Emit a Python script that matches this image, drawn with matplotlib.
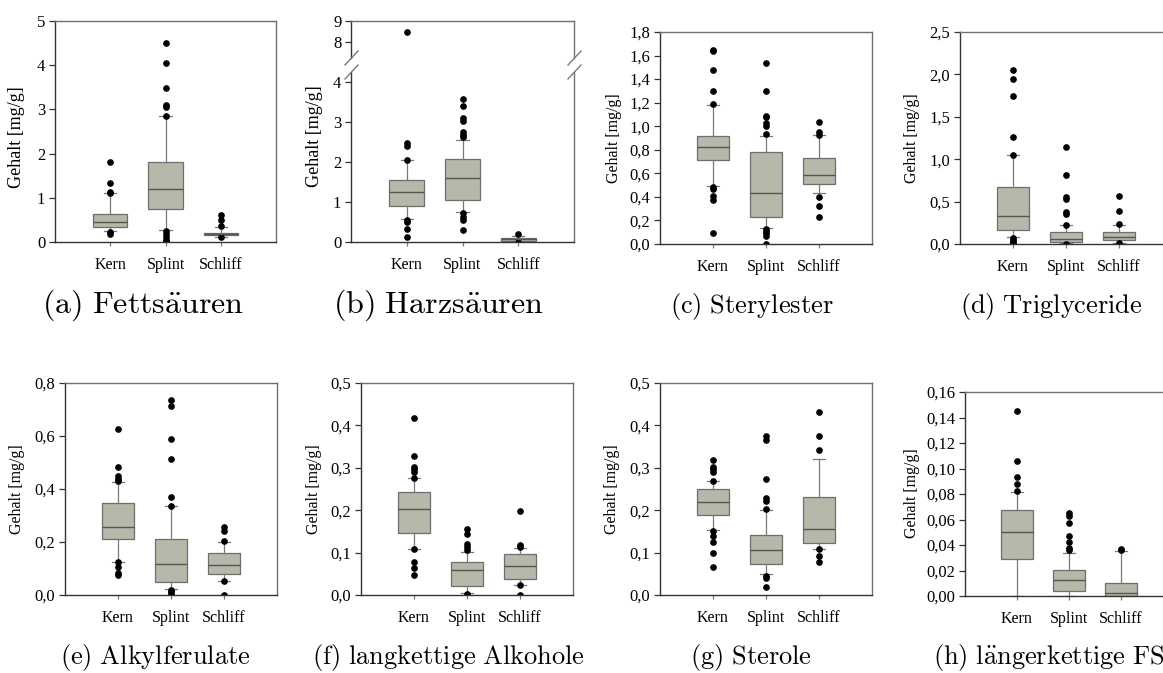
import matplotlib
matplotlib.use("Agg")
import matplotlib.pyplot as plt
from matplotlib.lines import Line2D

plt.rcParams['mathtext.fontset'] = 'cm'
plt.rcParams['font.family'] = ['Liberation Serif', 'DejaVu Serif']

W, H = 1163, 673
fig = plt.figure(figsize=(W / 100, H / 100), dpi=100)

categories = ['Kern', 'Splint', 'Schliff']

# ---------------- data ----------------
# (a) Fettsäuren
fett_q1 = [0.33, 0.745, 0.15]
fett_med = [0.46, 1.20, 0.18]
fett_q3 = [0.63, 1.82, 0.21]
fett_lo = [0.26, 0.27, 0.11]
fett_hi = [1.11, 2.84, 0.35]
fett_fliers = [[1.80, 1.34, 1.14, 1.11, 0.22, 0.18],
               [4.50, 4.06, 3.49, 3.10, 3.05, 2.85, 0.24, 0.17, 0.11, 0.05, 0.02],
               [0.62, 0.49, 0.36, 0.11]]
fett_yticks = [0, 1, 2, 3, 4, 5]
fett_yticklabels = ['0', '1', '2', '3', '4', '5']

# (b) Harzsäuren
harz_q1 = [0.89, 1.04, 0.025]
harz_med = [1.26, 1.61, 0.07]
harz_q3 = [1.56, 2.08, 0.09]
harz_lo = [0.57, 0.75, 0.0]
harz_hi = [2.04, 2.56, 0.14]
harz_fliers = [[8.50, 2.47, 2.41, 2.04, 0.55, 0.51, 0.33, 0.13],
               [3.57, 3.41, 3.10, 3.03, 2.76, 2.67, 2.62, 0.72, 0.62, 0.54, 0.29],
               [0.20, 0.0]]
harz_yticks_low = [0, 1, 2, 3, 4]
harz_yticklabels_low = ['0', '1', '2', '3', '4']
harz_yticks_high = [8, 9]
harz_yticklabels_high = ['8', '9']

# (c) Sterylester
steryl_q1 = [0.717, 0.227, 0.51]
steryl_med = [0.822, 0.43, 0.587]
steryl_q3 = [0.92, 0.78, 0.728]
steryl_lo = [0.49, 0.136, 0.43]
steryl_hi = [1.18, 0.915, 0.927]
steryl_fliers = [[1.65, 1.635, 1.48, 1.30, 1.19, 0.48, 0.465, 0.41, 0.37, 0.096],
                 [1.536, 1.30, 1.09, 1.077, 1.026, 1.003, 0.933, 0.125, 0.108, 0.09, 0.068, 0.0],
                 [1.04, 0.947, 0.927, 0.40, 0.323, 0.232]]
steryl_yticks = [0.0, 0.2, 0.4, 0.6, 0.8, 1.0, 1.2, 1.4, 1.6, 1.8]
steryl_yticklabels = ['0,0', '0,2', '0,4', '0,6', '0,8', '1,0', '1,2', '1,4', '1,6', '1,8']

# (d) Triglyceride
trig_q1 = [0.165, 0.028, 0.043]
trig_med = [0.327, 0.063, 0.079]
trig_q3 = [0.677, 0.138, 0.138]
trig_lo = [0.079, 0.008, 0.008]
trig_hi = [1.05, 0.224, 0.224]
trig_fliers = [[2.055, 1.95, 1.74, 1.256, 1.05, 0.07, 0.047, 0.024, 0.008],
               [1.14, 0.815, 0.55, 0.527, 0.378, 0.358, 0.224, 0.0],
               [0.567, 0.386, 0.24, 0.012, 0.0]]
trig_yticks = [0.0, 0.5, 1.0, 1.5, 2.0, 2.5]
trig_yticklabels = ['0,0', '0,5', '1,0', '1,5', '2,0', '2,5']

# (e) Alkylferulate
alkyl_q1 = [0.211, 0.048, 0.079]
alkyl_med = [0.257, 0.117, 0.112]
alkyl_q3 = [0.346, 0.211, 0.157]
alkyl_lo = [0.126, 0.023, 0.054]
alkyl_hi = [0.425, 0.335, 0.201]
alkyl_fliers = [[0.626, 0.483, 0.448, 0.438, 0.429, 0.123, 0.104, 0.083, 0.074],
                [0.735, 0.714, 0.589, 0.513, 0.371, 0.335, 0.02, 0.014, 0.008, 0.0],
                [0.257, 0.242, 0.203, 0.054, 0.0]]
alkyl_yticks = [0.0, 0.2, 0.4, 0.6, 0.8]
alkyl_yticklabels = ['0,0', '0,2', '0,4', '0,6', '0,8']

# (f) langkettige Alkohole
alko_q1 = [0.147, 0.021, 0.038]
alko_med = [0.203, 0.058, 0.069]
alko_q3 = [0.243, 0.077, 0.097]
alko_lo = [0.108, 0.005, 0.024]
alko_hi = [0.275, 0.102, 0.110]
alko_fliers = [[0.418, 0.328, 0.302, 0.297, 0.29, 0.275, 0.108, 0.077, 0.063, 0.048],
               [0.155, 0.143, 0.121, 0.114, 0.106, 0.002, 0.0],
               [0.198, 0.119, 0.114, 0.024, 0.0]]
alko_yticks = [0.0, 0.1, 0.2, 0.3, 0.4, 0.5]
alko_yticklabels = ['0,0', '0,1', '0,2', '0,3', '0,4', '0,5']

# (g) Sterole
sterol_q1 = [0.189, 0.073, 0.123]
sterol_med = [0.219, 0.106, 0.156]
sterol_q3 = [0.251, 0.141, 0.232]
sterol_lo = [0.153, 0.050, 0.108]
sterol_hi = [0.269, 0.200, 0.320]
sterol_fliers = [[0.318, 0.302, 0.297, 0.29, 0.269, 0.152, 0.139, 0.125, 0.098, 0.065],
                 [0.374, 0.365, 0.274, 0.229, 0.221, 0.203, 0.044, 0.039, 0.018],
                 [0.431, 0.374, 0.341, 0.108, 0.093, 0.078]]
sterol_yticks = [0.0, 0.1, 0.2, 0.3, 0.4, 0.5]
sterol_yticklabels = ['0,0', '0,1', '0,2', '0,3', '0,4', '0,5']

# (h) längerkettige FS
lfs_q1 = [0.0287, 0.0037, 0.0]
lfs_med = [0.0499, 0.0125, 0.0021]
lfs_q3 = [0.0671, 0.0201, 0.0099]
lfs_lo = [0.0, 0.0, 0.0]
lfs_hi = [0.0812, 0.0334, 0.0355]
lfs_fliers = [[0.145, 0.1055, 0.093, 0.0877, 0.0822],
              [0.0653, 0.0626, 0.0574, 0.047, 0.042, 0.0373, 0.036],
              [0.0365, 0.0358]]
lfs_yticks = [0.00, 0.02, 0.04, 0.06, 0.08, 0.10, 0.12, 0.14, 0.16]
lfs_yticklabels = ['0,00', '0,02', '0,04', '0,06', '0,08', '0,10', '0,12', '0,14', '0,16']

captions = [r'$\mathrm{(a)\ Fetts\ddot{a}uren}$',
            r'$\mathrm{(b)\ Harzs\ddot{a}uren}$',
            r'$\mathrm{(c)\ Sterylester}$',
            r'$\mathrm{(d)\ Triglyceride}$',
            r'$\mathrm{(e)\ Alkylferulate}$',
            r'$\mathrm{(f)\ langkettige\ Alkohole}$',
            r'$\mathrm{(g)\ Sterole}$',
            r'$\mathrm{(h)\ l\ddot{a}ngerkettige\ FS}$']
ylabel_text = 'Gehalt [mg/g]'

# ---------------- styling ----------------
FILL = '#b7b7aa'
EDGE = '#6e6e6e'
MED = '#55554c'
WHISK = '#7a7a7a'
DARK = '#333333'
LIGHT = '#707070'
XFS = 11.5
YFS = 12


def add_ax(left, top, right, bottom):
    return fig.add_axes([left / W, 1 - bottom / H, (right - left) / W, (bottom - top) / H])


def stats(q1, med, q3, lo, hi, fl):
    return [dict(q1=q1[i], med=med[i], q3=q3[i], whislo=lo[i], whishi=hi[i],
                 fliers=fl[i], label=categories[i]) for i in range(3)]


def draw(ax, st):
    ax.bxp(st, positions=[1, 2, 3], widths=0.62, patch_artist=True, capwidths=0.22,
           boxprops=dict(facecolor=FILL, edgecolor=EDGE, linewidth=0.9),
           medianprops=dict(color=MED, linewidth=1.0),
           whiskerprops=dict(color=WHISK, linewidth=0.9),
           capprops=dict(color=WHISK, linewidth=0.9),
           flierprops=dict(marker='o', markerfacecolor='black', markeredgecolor='black',
                           markersize=3.8, linestyle='none'))
    ax.set_xlim(0, 4)


def style(ax, yticks, ylabels, ylim, xlab=True):
    ax.set_ylim(*ylim)
    ax.set_yticks(yticks)
    ax.set_yticklabels(ylabels)
    ax.set_xticks([1, 2, 3])
    ax.set_xticklabels(categories if xlab else [])
    for s in ['left', 'bottom']:
        ax.spines[s].set_color(DARK)
        ax.spines[s].set_linewidth(1.0)
    for s in ['top', 'right']:
        ax.spines[s].set_color(LIGHT)
        ax.spines[s].set_linewidth(1.0)
    ax.tick_params(axis='y', direction='out', length=4, width=0.9, color=DARK,
                   labelsize=YFS, pad=3)
    ax.tick_params(axis='x', direction='out', length=3, width=0.9, color=WHISK,
                   labelsize=XFS, pad=8)
    ax.set_facecolor('white')


def ylab(ax, x, y=0.5, size=11.5):
    ax.set_ylabel(ylabel_text, fontsize=size)
    ax.yaxis.set_label_coords(x, y)


# (a)
ax = add_ax(55, 21, 276, 242)
draw(ax, stats(fett_q1, fett_med, fett_q3, fett_lo, fett_hi, fett_fliers))
style(ax, fett_yticks, fett_yticklabels, (0, 5))
ylab(ax, -0.136, 0.475, 13)

# (b) broken axis
axl = add_ax(351, 72, 574, 242)
axu = add_ax(351, 21, 574, 58)
st = stats(harz_q1, harz_med, harz_q3, harz_lo, harz_hi, harz_fliers)
draw(axl, st)
draw(axu, st)
style(axl, harz_yticks_low, harz_yticklabels_low, (0, 4.25))
style(axu, harz_yticks_high, harz_yticklabels_high, (9 - 37 / 21, 9), xlab=False)
axl.spines['top'].set_visible(False)
axu.spines['bottom'].set_visible(False)
axu.tick_params(axis='x', length=0)
ylab(axl, -0.126, 0.625, 13)
for xs in (351, 574):
    for yc in (58, 72):
        fig.add_artist(Line2D([(xs - 6) / W, (xs + 7) / W],
                              [1 - (yc + 7) / H, 1 - (yc - 7) / H],
                              color='#7a7a7a', linewidth=1.0))

# (c)
ax = add_ax(660, 32, 872, 244)
draw(ax, stats(steryl_q1, steryl_med, steryl_q3, steryl_lo, steryl_hi, steryl_fliers))
style(ax, steryl_yticks, steryl_yticklabels, (0, 1.8))
ylab(ax, -0.179)

# (d)
ax = add_ax(960, 32, 1172, 244)
draw(ax, stats(trig_q1, trig_med, trig_q3, trig_lo, trig_hi, trig_fliers))
style(ax, trig_yticks, trig_yticklabels, (0, 2.5))
ylab(ax, -0.189)

# (e)
ax = add_ax(65, 383, 277, 595)
draw(ax, stats(alkyl_q1, alkyl_med, alkyl_q3, alkyl_lo, alkyl_hi, alkyl_fliers))
style(ax, alkyl_yticks, alkyl_yticklabels, (0, 0.8))
ylab(ax, -0.189)

# (f)
ax = add_ax(361, 383, 573, 595)
draw(ax, stats(alko_q1, alko_med, alko_q3, alko_lo, alko_hi, alko_fliers))
style(ax, alko_yticks, alko_yticklabels, (0, 0.5))
ylab(ax, -0.184)

# (g)
ax = add_ax(660, 383, 872, 595)
draw(ax, stats(sterol_q1, sterol_med, sterol_q3, sterol_lo, sterol_hi, sterol_fliers))
style(ax, sterol_yticks, sterol_yticklabels, (0, 0.5))
ylab(ax, -0.189)

# (h)
ax = add_ax(965, 392, 1173, 596)
draw(ax, stats(lfs_q1, lfs_med, lfs_q3, lfs_lo, lfs_hi, lfs_fliers))
style(ax, lfs_yticks, lfs_yticklabels, (0, 0.16))
ylab(ax, -0.216, 0.505)

# captions (left x, baseline y in pixels, font size)
cap_pos = [(42, 313, 23), (333, 313, 23), (670, 313, 19), (960, 313, 19),
           (60, 664, 19), (312, 664, 19), (690, 664, 19), (933, 664, 19)]
for (cx, cy, fs), txt in zip(cap_pos, captions):
    fig.text(cx / W, 1 - cy / H, txt, ha='left', va='baseline', fontsize=fs)

fig.savefig('out.png', dpi=100)
